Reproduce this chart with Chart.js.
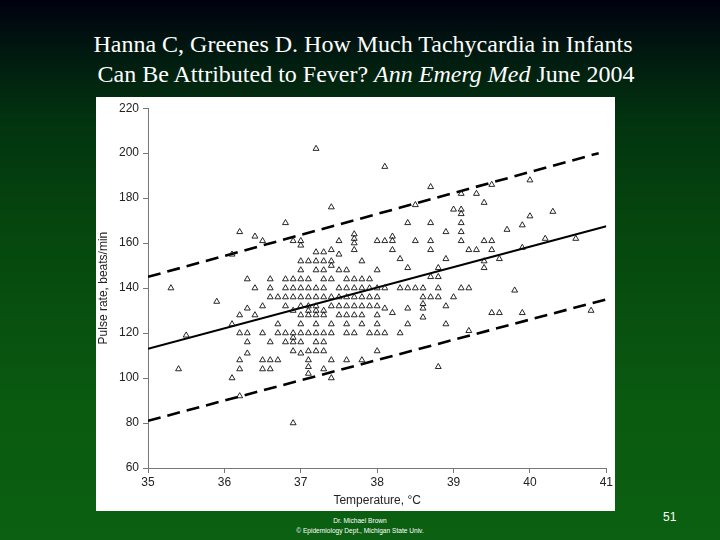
<!DOCTYPE html>
<html>
<head>
<meta charset="utf-8">
<script src="https://cdn.jsdelivr.net/npm/chart.js@4.4.1/dist/chart.umd.min.js"></script>
<style>
  html, body { margin: 0; padding: 0; }
  body {
    width: 720px; height: 540px; overflow: hidden; position: relative;
    background: linear-gradient(to bottom, #00000f 0%, #011a10 10%, #02330f 22%, #05450e 40%, #0a5a10 75%, #0b6011 100%);
    font-family: 'Liberation Serif', 'Times New Roman', serif;
  }
  .title {
    position: absolute; left: 0; top: 29px; width: 726px;
    text-align: center; color: #fff; font-size: 24px; line-height: 30px;
  }
  .box {
    position: absolute; left: 96px; top: 97px; width: 519px; height: 414px;
    background: #fff;
  }
  .footer {
    position: absolute; left: 0; top: 516px; width: 720px; text-align: center;
    color: #fff; font-family: 'Liberation Sans', Arial, sans-serif; font-size: 6.6px; line-height: 10px;
  }
  .page {
    position: absolute; left: 663px; top: 510px; color: #fff;
    font-family: 'Liberation Sans', Arial, sans-serif; font-size: 12px;
  }
</style>
</head>
<body>
<div class="title">Hanna C, Greenes D. How Much Tachycardia in Infants<br>&nbsp;Can Be Attributed to Fever? <i>Ann Emerg Med</i> June 2004</div>
<div class="box"><canvas id="scatterChart"></canvas></div>
<div class="footer">Dr. Michael Brown<br>© Epidemiology Dept., Michigan State Univ.</div>
<div class="page">51</div>
<script>
// temperature columns (°C) and the pulse readings seen at each one
const temps = [35.3, 35.4, 35.5, 35.9, 36.1, 36.2, 36.3, 36.4, 36.5, 36.6, 36.7, 36.8, 36.9,
  37.0, 37.1, 37.2, 37.3, 37.4, 37.5, 37.6, 37.7, 37.8, 37.9,
  38.0, 38.1, 38.2, 38.3, 38.4, 38.5, 38.6, 38.7, 38.8, 38.9,
  39.0, 39.1, 39.2, 39.3, 39.4, 39.5, 39.6, 39.7, 39.8, 39.9,
  40.0, 40.2, 40.3, 40.6, 40.8];
const pulses = [
  [140], [104], [119], [134],
  [155, 124, 100],
  [165, 128, 120, 108, 104, 92],
  [144, 131, 120, 116, 111],
  [163, 140, 128],
  [161, 132, 120, 108, 104],
  [144, 140, 136, 116, 108, 104],
  [136, 124, 120, 108],
  [169, 144, 140, 136, 132, 120, 116],
  [161, 144, 140, 136, 130, 120, 118, 116, 112, 80],
  [161, 159, 152, 148, 144, 140, 136, 132, 128, 124, 120, 116, 111],
  [152, 144, 140, 136, 132, 130, 128, 120, 112, 108, 105, 102],
  [202, 156, 152, 148, 140, 136, 132, 130, 128, 124, 120, 116, 112],
  [156, 152, 148, 144, 140, 136, 130, 128, 120, 116, 112, 104],
  [176, 157, 152, 150, 144, 136, 132, 124, 120, 108, 100],
  [161, 155, 148, 140, 136, 132, 128],
  [148, 144, 140, 136, 132, 128, 124, 120, 108],
  [164, 162, 160, 157, 144, 140, 136, 132, 128, 120],
  [152, 144, 140, 136, 132, 128, 124, 108],
  [144, 140, 136, 132, 120],
  [161, 148, 140, 136, 132, 128, 124, 120, 112],
  [194, 161, 140, 131, 120],
  [163, 161, 157, 129],
  [153, 140, 120],
  [169, 149, 140, 131, 124],
  [177, 161, 140],
  [140, 136, 133, 131, 127],
  [185, 169, 161, 157, 145, 136],
  [149, 145, 140, 136, 105],
  [165, 153, 132, 124],
  [175, 136],
  [182, 175, 173, 169, 165, 161, 140],
  [157, 140, 121],
  [182, 157],
  [178, 161, 152, 149],
  [186, 161, 157, 129],
  [153, 129],
  [166], [139], [168, 158, 129], [188, 172], [162], [174], [162], [130]
];

// regression line and the two prediction bands
const fitTemps = [35, 41];
const fitPulse = [113, 167.5];
const upperTemps = [35, 40.9];
const upperPulse = [145, 200];
const lowerTemps = [35, 41];
const lowerPulse = [81, 135];

const yTicks = [60, 80, 100, 120, 140, 160, 180, 200, 220];
const xTicks = [35, 36, 37, 38, 39, 40, 41];

const points = temps.flatMap((t, i) => pulses[i].map(p => ({ x: t, y: p })));
const toXY = (xs, ys) => xs.map((x, i) => ({ x: x, y: ys[i] }));

const narrow = "'Liberation Sans Narrow', 'Arial Narrow', 'Liberation Sans', sans-serif";

const ctx = document.getElementById('scatterChart').getContext('2d');
new Chart(ctx, {
  type: 'scatter',
  data: {
    datasets: [
      {
        data: points,
        pointStyle: 'triangle',
        pointRadius: 3.4,
        pointBorderWidth: 0.9,
        borderColor: '#111',
        backgroundColor: 'rgba(0,0,0,0)'
      },
      {
        type: 'line',
        data: toXY(fitTemps, fitPulse),
        borderColor: '#000',
        borderWidth: 2,
        pointRadius: 0
      },
      {
        type: 'line',
        data: toXY(upperTemps, upperPulse),
        borderColor: '#000',
        borderWidth: 2.6,
        borderDash: [13, 7],
        pointRadius: 0
      },
      {
        type: 'line',
        data: toXY(lowerTemps, lowerPulse),
        borderColor: '#000',
        borderWidth: 2.6,
        borderDash: [13, 7],
        pointRadius: 0
      }
    ]
  },
  options: {
    responsive: true,
    maintainAspectRatio: false,
    animation: false,
    layout: { padding: { top: 10, right: 6, left: 0, bottom: 0 } },
    plugins: { legend: { display: false }, tooltip: { enabled: false } },
    scales: {
      x: {
        type: 'linear',
        min: 35,
        max: 41,
        afterBuildTicks: s => { s.ticks = xTicks.map(v => ({ value: v })); },
        afterFit: s => { s.height = 43; },
        grid: { drawOnChartArea: false, tickLength: 5, color: '#777' },
        border: { color: '#777' },
        ticks: { padding: 2, color: '#222', font: { family: narrow, size: 12 } },
        title: {
          display: true, text: 'Temperature, °C', color: '#222',
          padding: { top: 0, bottom: 3 }, font: { family: narrow, size: 12 }
        }
      },
      y: {
        min: 60,
        max: 220,
        afterBuildTicks: s => { s.ticks = yTicks.map(v => ({ value: v })); },
        afterFit: s => { s.width = 52; },
        grid: { drawOnChartArea: false, tickLength: 5, color: '#777' },
        border: { color: '#777' },
        ticks: { padding: 4, color: '#222', font: { family: narrow, size: 12 } },
        title: {
          display: true, text: 'Pulse rate, beats/min', color: '#222',
          padding: 0, font: { family: narrow, size: 12 }
        }
      }
    }
  }
});
</script>
</body>
</html>
